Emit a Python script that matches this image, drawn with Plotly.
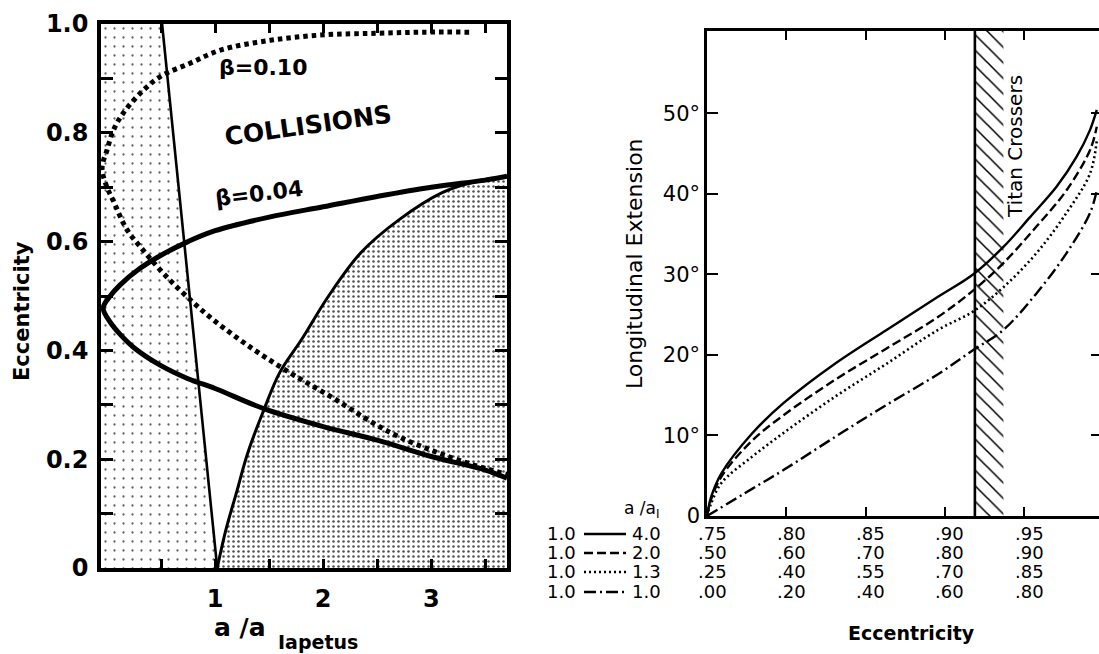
import plotly.graph_objects as go

W, H = 1099, 654

# ---------------- Left panel data ----------------
a_ticks = [0.5, 1.0, 1.5, 2.0, 2.5, 3.0, 3.5]
a_ticktext = ["", "1", "", "2", "", "3", ""]
e_ticks = [0.0, 0.1, 0.2, 0.3, 0.4, 0.5, 0.6, 0.7, 0.8, 0.9, 1.0]
e_ticktext = ["0", "", "0.2", "", "0.4", "", "0.6", "", "0.8", "", "1.0"]

# sparse stipple (left of the straight boundary)
stip_left_a = [-0.055, -0.055, 0.51, 1.02]
stip_left_e = [0.0, 1.0, 1.0, 0.0]

# straight boundary line
line_a = [0.51, 1.02]
line_e = [1.0, 0.0]

# rising boundary curve (dense stipple below it)
peri_a = [1.02, 1.10, 1.20, 1.30, 1.45, 1.60, 1.80, 2.05, 2.35, 2.70, 3.10, 3.40, 3.70]
peri_e = [0.00, 0.07, 0.14, 0.21, 0.29, 0.36, 0.42, 0.50, 0.58, 0.64, 0.69, 0.71, 0.72]

# beta = 0.04 (solid)
b04_a = [3.70, 3.50, 3.00, 2.50, 2.00, 1.50, 1.00, 0.75, 0.50, 0.30, 0.12, 0.03, -0.035,
         0.03, 0.12, 0.25, 0.50, 0.75, 1.00, 1.45, 2.00, 2.50, 3.00, 3.50, 3.70]
b04_e = [0.720, 0.713, 0.700, 0.683, 0.664, 0.645, 0.620, 0.600, 0.575, 0.550, 0.520, 0.500, 0.478,
         0.452, 0.430, 0.405, 0.372, 0.348, 0.330, 0.293, 0.260, 0.235, 0.205, 0.180, 0.165]

# beta = 0.10 (dotted)
b10_a = [3.35, 2.93, 2.50, 2.00, 1.51, 1.05, 0.77, 0.49, 0.31, 0.15, 0.06, 0.00, -0.045,
         0.00, 0.059, 0.182, 0.336, 0.52, 0.738, 0.985, 1.355, 1.725, 2.096, 2.466, 2.713, 3.02, 3.35, 3.70]
b10_e = [0.985, 0.985, 0.983, 0.980, 0.970, 0.952, 0.928, 0.903, 0.873, 0.836, 0.805, 0.768, 0.735,
         0.700, 0.675, 0.623, 0.584, 0.542, 0.499, 0.456, 0.402, 0.355, 0.312, 0.266, 0.240, 0.215, 0.192, 0.172]

# ---------------- Right panel data ----------------
ecc_ticks = [0.75, 0.80, 0.85, 0.90, 0.95]
ecc_rows = [
    [".75", ".80", ".85", ".90", ".95"],
    [".50", ".60", ".70", ".80", ".90"],
    [".25", ".40", ".55", ".70", ".85"],
    [".00", ".20", ".40", ".60", ".80"],
]
ratio_inner = ["1.0", "1.0", "1.0", "1.0"]
ratio_outer = ["4.0", "2.0", "1.3", "1.0"]
deg_ticks = [0, 10, 20, 30, 40, 50]
deg_ticktext = ["0", "10°", "20°", "30°", "40°", "50°"]
deg_max = 60.2

titan_e = [0.919, 0.937]

solid_e = [0.75, 0.7525, 0.7591, 0.7787, 0.7982, 0.8307, 0.8633, 0.8957, 0.918, 0.937, 0.9538, 0.9706, 0.9832, 0.9916, 0.9959]
solid_d = [0.0, 2.3, 5.3, 10.3, 14.0, 18.9, 23.1, 27.2, 30.0, 33.4, 37.1, 40.9, 44.6, 47.9, 50.4]

dash_e = [0.75, 0.7525, 0.7591, 0.7787, 0.7982, 0.8307, 0.8633, 0.8957, 0.918, 0.937, 0.9577, 0.9767, 0.9916, 0.9959]
dash_d = [0.0, 2.0, 4.9, 9.4, 12.5, 16.9, 20.8, 24.7, 28.0, 31.4, 35.9, 40.4, 45.4, 48.3]

dot_e = [0.75, 0.7525, 0.7591, 0.7787, 0.7982, 0.8307, 0.8633, 0.8957, 0.918, 0.937, 0.9577, 0.9767, 0.9916, 0.9959]
dot_d = [0.0, 1.5, 4.1, 7.4, 10.3, 14.8, 18.9, 23.1, 25.4, 28.4, 32.6, 37.6, 42.5, 46.6]

dd_e = [0.75, 0.7787, 0.7982, 0.8307, 0.8633, 0.8957, 0.918, 0.937, 0.9577, 0.9767, 0.9916, 0.9959]
dd_d = [0.0, 3.4, 5.7, 9.8, 13.8, 17.6, 20.6, 23.1, 27.6, 32.6, 37.6, 40.4]

DASHES = ["solid", "9px,4px", "2px,3px", "12px,4px,2px,4px"]

# ---------------- helpers ----------------
def px(x):
    return x / W

def py(y):
    return 1 - y / H

FONT = "DejaVu Sans"
BLACK = "black"

fig = go.Figure()

# ---- left panel traces ----
fig.add_trace(go.Scatter(x=stip_left_a, y=stip_left_e, mode="lines", fill="toself",
                         line=dict(width=0), fillcolor="rgba(0,0,0,0)",
                         fillpattern=dict(shape=".", size=9, solidity=0.05, fgcolor="#606060",
                                          bgcolor="rgba(0,0,0,0)"),
                         xaxis="x", yaxis="y", hoverinfo="skip"))
fig.add_trace(go.Scatter(x=peri_a + [peri_a[-1]], y=peri_e + [0.0], mode="lines", fill="toself",
                         line=dict(width=0), fillcolor="rgba(0,0,0,0)",
                         fillpattern=dict(shape=".", size=5, solidity=0.2, fgcolor="#505050",
                                          bgcolor="rgba(0,0,0,0)"),
                         xaxis="x", yaxis="y", hoverinfo="skip"))
fig.add_trace(go.Scatter(x=line_a, y=line_e, mode="lines", line=dict(color=BLACK, width=2.6),
                         xaxis="x", yaxis="y"))
fig.add_trace(go.Scatter(x=peri_a, y=peri_e, mode="lines", line=dict(color=BLACK, width=3, shape="spline"),
                         xaxis="x", yaxis="y"))
fig.add_trace(go.Scatter(x=b04_a, y=b04_e, mode="lines", line=dict(color=BLACK, width=5, shape="spline"),
                         xaxis="x", yaxis="y"))
fig.add_trace(go.Scatter(x=b10_a, y=b10_e, mode="lines",
                         line=dict(color=BLACK, width=5, dash="4.5px,4px", shape="spline"),
                         xaxis="x", yaxis="y"))

# ---- right panel traces ----
fig.add_trace(go.Scatter(x=[titan_e[0], titan_e[0], titan_e[1], titan_e[1]],
                         y=[0, deg_max, deg_max, 0], mode="lines", fill="toself",
                         line=dict(width=0), fillcolor="rgba(0,0,0,0)",
                         fillpattern=dict(shape="\\", size=11, solidity=0.14, fgcolor=BLACK,
                                          bgcolor="rgba(0,0,0,0)"),
                         xaxis="x2", yaxis="y2", hoverinfo="skip"))
fig.add_trace(go.Scatter(x=[titan_e[0], titan_e[0]], y=[0, deg_max], mode="lines",
                         line=dict(color=BLACK, width=2.6), xaxis="x2", yaxis="y2"))
for xs, ys, dsh in [(solid_e, solid_d, DASHES[0]), (dash_e, dash_d, DASHES[1]),
                    (dot_e, dot_d, DASHES[2]), (dd_e, dd_d, DASHES[3])]:
    fig.add_trace(go.Scatter(x=xs, y=ys, mode="lines",
                             line=dict(color=BLACK, width=2.4 if dsh != "2px,3px" else 2.6,
                                       dash=dsh, shape="spline"),
                             xaxis="x2", yaxis="y2"))
# invisible trace for right-side tick axis
fig.add_trace(go.Scatter(x=[0.8], y=[10], mode="markers", marker=dict(opacity=0),
                         xaxis="x2", yaxis="y3", hoverinfo="skip"))

tickfont_left = dict(family=FONT, size=24, color=BLACK, weight="bold")
tickfont_right = dict(family=FONT, size=21, color=BLACK)

fig.update_layout(
    template="none",
    width=W, height=H,
    margin=dict(l=0, r=0, t=0, b=0, pad=0, autoexpand=False),
    paper_bgcolor="white", plot_bgcolor="rgba(0,0,0,0)",
    showlegend=False,
    xaxis=dict(domain=[px(101), px(507)], range=[-0.055, 3.70], anchor="y", automargin=False,
               tickvals=a_ticks, ticktext=a_ticktext, ticks="inside", ticklen=9, tickwidth=3,
               tickcolor=BLACK, showline=True, linewidth=3.5, linecolor=BLACK, mirror="ticks",
               showgrid=False, zeroline=False, tickfont=tickfont_left, ticklabelstandoff=6),
    yaxis=dict(domain=[py(568), py(24)], range=[0, 1], anchor="x", automargin=False,
               tickvals=e_ticks, ticktext=e_ticktext, ticks="inside", ticklen=12, tickwidth=3,
               tickcolor=BLACK, showline=True, linewidth=3.5, linecolor=BLACK, mirror="ticks",
               showgrid=False, zeroline=False, tickfont=tickfont_left, ticklabelstandoff=4),
    xaxis2=dict(domain=[px(707), 1.0], range=[0.75, 0.9973], anchor="y2", automargin=False,
                tickvals=ecc_ticks[1:], ticks="inside", ticklen=9, tickwidth=2,
                tickcolor=BLACK, showline=True, linewidth=2.5, linecolor=BLACK, mirror="ticks",
                showgrid=False, zeroline=False, showticklabels=False),
    yaxis2=dict(domain=[py(516), py(31)], range=[0, deg_max], anchor="x2", automargin=False,
                tickvals=deg_ticks, ticktext=deg_ticktext, ticks="inside", ticklen=11, tickwidth=2,
                tickcolor=BLACK, showline=True, linewidth=2.5, linecolor=BLACK, mirror=False,
                showgrid=False, zeroline=False, tickfont=tickfont_right, ticklabelstandoff=0),
    yaxis3=dict(overlaying="y2", side="right", anchor="x2", range=[0, deg_max], automargin=False,
                tickvals=deg_ticks[1:], ticks="inside", ticklen=8, tickwidth=2, tickcolor=BLACK,
                showline=False, showgrid=False, zeroline=False, showticklabels=False),
)

ann = []

def txt(x, y, text, size, bold=False, angle=0, **kw):
    f = dict(family=FONT, size=size, color=BLACK)
    if bold:
        f["weight"] = "bold"
    d = dict(x=px(x), y=py(y), xref="paper", yref="paper", text=text, textangle=angle,
             showarrow=False, xanchor="center", yanchor="middle", font=f)
    d.update(kw)
    ann.append(d)

# left panel labels
txt(22, 311, "Eccentricity", 21, bold=True, angle=-90)
txt(240, 627, "a /a", 25, bold=True)
txt(318, 642, "Iapetus", 19, bold=True)
txt(263, 67, "β=0.10", 22, bold=True)
txt(308, 125, "COLLISIONS", 25, bold=True, angle=-8)
txt(259, 194, "β=0.04", 22, bold=True, angle=-7)

# right panel labels
txt(634, 264, "Longitudinal Extension", 22, angle=-90)
txt(1015, 147, "Titan Crossers", 20, angle=-90)
txt(911, 633, "Eccentricity", 19, bold=True)
txt(641, 509, "a /a<sub>I</sub>", 17)

row_y = [533, 552, 571, 591]
for r, labels in enumerate(ecc_rows):
    for xv, lab in zip(ecc_ticks, labels):
        ann.append(dict(x=xv, y=py(row_y[r]), xref="x2", yref="paper", text=lab, xshift=5,
                        xanchor="center", yanchor="middle",
                        showarrow=False, font=dict(family=FONT, size=18, color=BLACK)))
    txt(561, row_y[r], ratio_inner[r], 18)
    txt(646, row_y[r], ratio_outer[r], 18)

fig.update_layout(annotations=ann)

shapes = []
for r, dsh in enumerate(DASHES):
    shapes.append(dict(type="line", xref="paper", yref="paper",
                       x0=px(584), x1=px(626), y0=py(row_y[r] + 1), y1=py(row_y[r] + 1),
                       line=dict(color=BLACK, width=2.4, dash=dsh)))
fig.update_layout(shapes=shapes)

fig.write_html("out.html", config={"displayModeBar": False},
               post_script="document.body.style.margin='0px';document.body.style.overflow='hidden';")
